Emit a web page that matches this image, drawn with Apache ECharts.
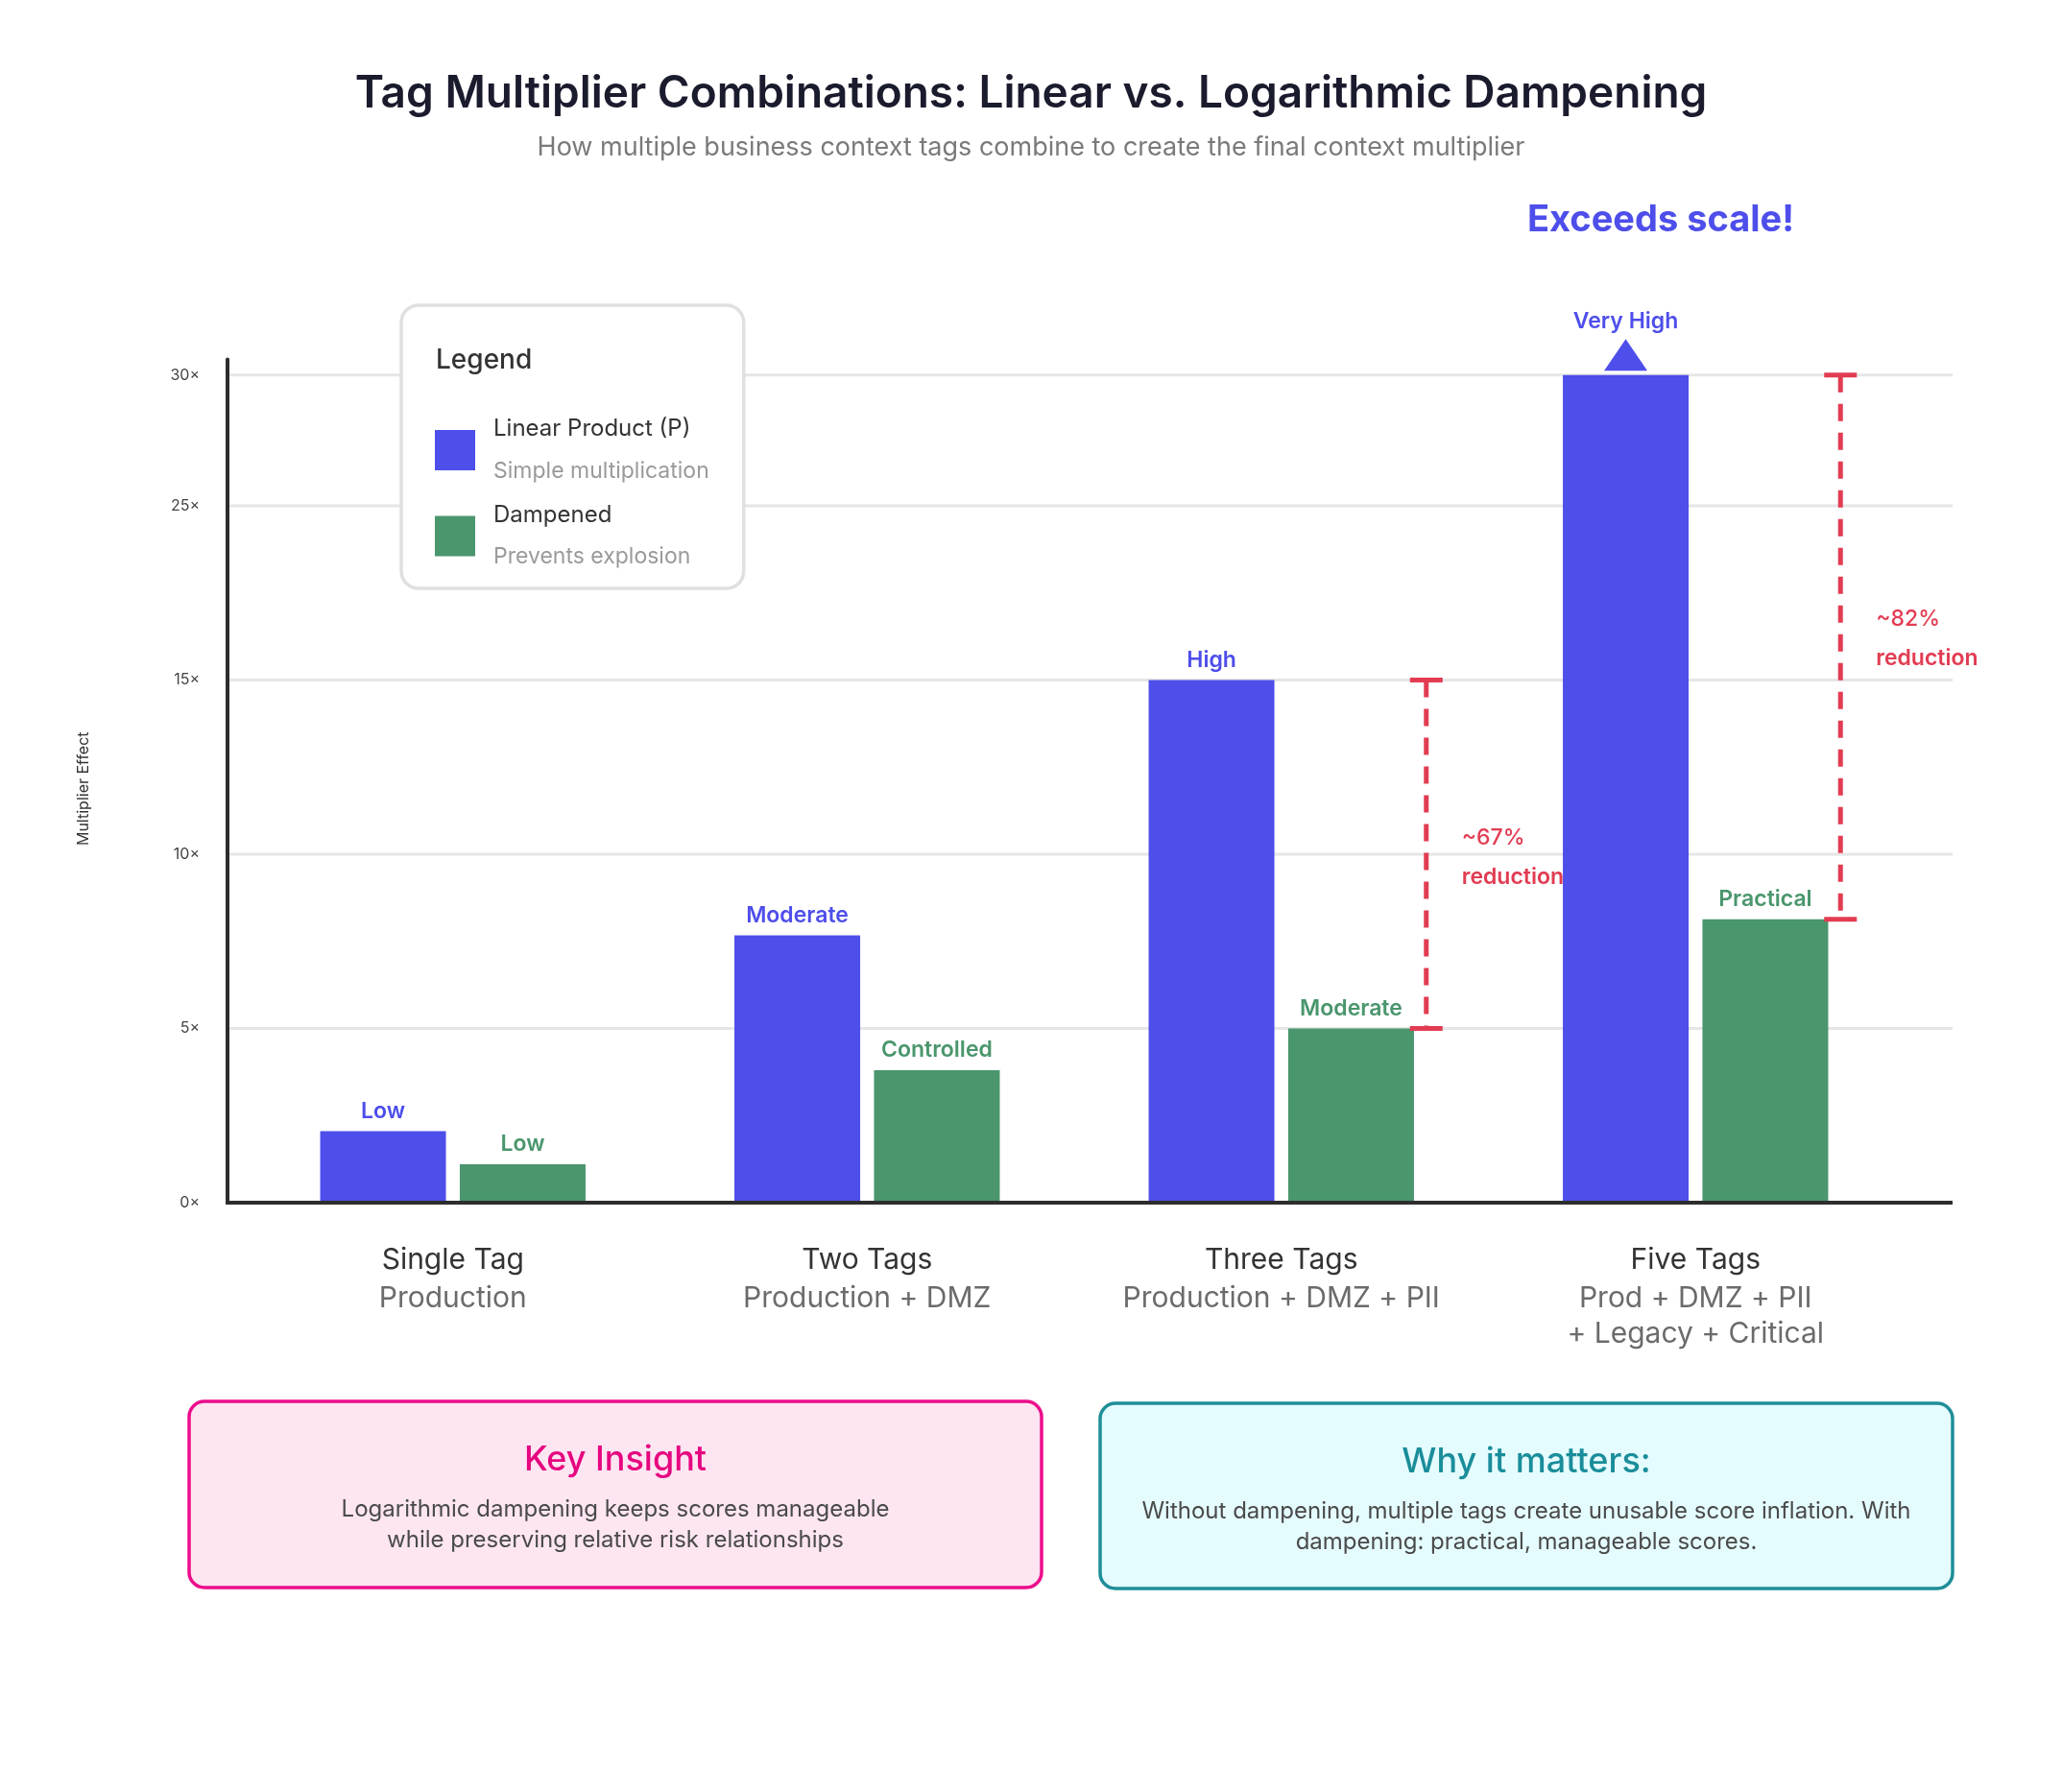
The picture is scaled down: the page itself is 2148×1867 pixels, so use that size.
<!DOCTYPE html>
<html>
<head>
<meta charset="utf-8">
<title>Tag Multiplier Combinations</title>
<script src="https://cdn.jsdelivr.net/npm/echarts@6.0.0/dist/echarts.min.js"></script>
<style>
  html, body { margin: 0; padding: 0; background: #ffffff; }
  #chart { width: 2148px; height: 1867px; }
</style>
</head>
<body>
<div id="chart"></div>
<script>
(function () {
  'use strict';

  // data
  var categories = ['Single Tag', 'Two Tags', 'Three Tags', 'Five Tags'];
  var tagSets = ['Production', 'Production + DMZ', 'Production + DMZ + PII', 'Prod + DMZ + PII\n+ Legacy + Critical'];
  var linearValues = [2.05, 7.67, 15, 30];
  var dampenedValues = [1.1, 3.8, 5, 8.13];
  var linearLabels = ['Low', 'Moderate', 'High', 'Very High'];
  var dampenedLabels = ['Low', 'Controlled', 'Moderate', 'Practical'];
  var reductionIndex = [2, 3];
  var reductionText = ['~67%', '~82%'];
  var tickValues = [0, 5, 10, 15, 25, 30];
  var tickLabels = ['0×', '5×', '10×', '15×', '25×', '30×'];
  var seriesNames = ['Linear Product (P)', 'Dampened'];
  var seriesNotes = ['Simple multiplication', 'Prevents explosion'];

  var BLUE = '#4e4eeb';
  var GREEN = '#4a966d';
  var RED = '#e23c52';
  var FONT = 'Inter, "Noto Sans", sans-serif';
  var reductionTextShift = [4, -9];

  // the source axis is compressed above 15x (15-25 at half, 25-30 at 3/4 scale)
  function toAxis(v) {
    if (v <= 15) {
      return v;
    }
    if (v <= 25) {
      return 15 + (v - 15) * 0.5;
    }
    return 20 + (v - 25) * 0.75;
  }

  function tickLabelFor(axisValue) {
    for (var i = 0; i < tickValues.length; i += 1) {
      if (Math.abs(toAxis(tickValues[i]) - axisValue) < 0.01) {
        return tickLabels[i];
      }
    }
    return '';
  }

  var chart = echarts.init(document.getElementById('chart'), null, { renderer: 'canvas' });

  var option = {
    backgroundColor: '#ffffff',
    textStyle: { fontFamily: FONT },
    animation: false,
    title: {
      text: 'Tag Multiplier Combinations: Linear vs. Logarithmic Dampening',
      subtext: 'How multiple business context tags combine to create the final context multiplier',
      left: 'center',
      top: 70,
      itemGap: 19,
      textStyle: { fontFamily: FONT, fontSize: 46, fontWeight: 600, color: '#1b1b2e' },
      subtextStyle: { fontFamily: FONT, fontSize: 27, color: '#7a7a7a' }
    },
    legend: {
      data: seriesNames,
      orient: 'vertical',
      left: 418,
      top: 318,
      itemWidth: 42,
      itemHeight: 42,
      itemGap: 22,
      icon: 'rect',
      backgroundColor: '#ffffff',
      borderColor: '#e0e0e0',
      borderWidth: 3.5,
      borderRadius: 18,
      padding: [117, 36, 21, 35],
      selectedMode: false,
      formatter: function (name) {
        var note = seriesNotes[seriesNames.indexOf(name)];
        return '{a|' + name + '}\n{b|' + note + '}';
      },
      textStyle: {
        rich: {
          a: { fontFamily: FONT, fontSize: 24, color: '#333333', lineHeight: 44, padding: [0, 0, 0, 14] },
          b: { fontFamily: FONT, fontSize: 23, color: '#9a9a9a', lineHeight: 44, padding: [0, 0, 0, 14] }
        }
      }
    },
    grid: {
      left: 256,
      right: 2148 - 1982,
      top: 374.5,
      bottom: 1867 - 1253,
      containLabel: false
    },
    xAxis: {
      type: 'category',
      data: categories,
      axisLine: { show: false },
      axisTick: { show: false },
      splitLine: { show: false },
      axisLabel: {
        margin: 39,
        interval: 0,
        formatter: function (value, index) {
          return '{a|' + value + '}\n{b|' + tagSets[index].replace('\n', '}\n{b|') + '}';
        },
        rich: {
          a: { fontFamily: FONT, fontSize: 30, color: '#333333', lineHeight: 42 },
          b: { fontFamily: FONT, fontSize: 30, color: '#6b6b6b', lineHeight: 37 }
        }
      }
    },
    yAxis: {
      type: 'value',
      min: 0,
      max: 24.2,
      offset: 19,
      name: 'Multiplier Effect',
      nameLocation: 'middle',
      nameRotate: 90,
      nameGap: 142,
      nameTextStyle: { fontFamily: FONT, fontSize: 16, color: '#333333', padding: [0, 16, 0, 0] },
      axisLine: { show: true, lineStyle: { color: '#2d2d2d', width: 4 } },
      axisTick: { show: false },
      splitLine: { show: false },
      axisLabel: {
        customValues: tickValues.map(toAxis),
        margin: 29,
        fontFamily: FONT,
        fontSize: 16,
        color: '#444444',
        formatter: function (value) {
          return tickLabelFor(value);
        }
      }
    },
    series: [
      {
        name: seriesNames[0],
        type: 'bar',
        barWidth: 131,
        barGap: '11%',
        z: 2,
        itemStyle: { color: BLUE },
        data: linearValues.map(function (v, i) {
          return {
            value: toAxis(v),
            label: { distance: i === 3 ? 44 : 9 }
          };
        }),
        label: {
          show: true,
          position: 'top',
          fontFamily: FONT,
          fontSize: 23,
          fontWeight: 600,
          color: BLUE,
          formatter: function (p) {
            return linearLabels[p.dataIndex];
          }
        },
        markPoint: {
          silent: true,
          symbol: 'triangle',
          symbolSize: [45, 33],
          symbolOffset: [0, -21],
          itemStyle: { color: BLUE },
          label: { show: false },
          data: [{ coord: [3, toAxis(linearValues[3])] }]
        }
      },
      {
        name: seriesNames[1],
        type: 'bar',
        barWidth: 131,
        barGap: '11%',
        z: 2,
        itemStyle: { color: GREEN },
        data: dampenedValues.map(toAxis),
        label: {
          show: true,
          position: 'top',
          distance: 9,
          fontFamily: FONT,
          fontSize: 23,
          fontWeight: 600,
          color: GREEN,
          formatter: function (p) {
            return dampenedLabels[p.dataIndex];
          }
        }
      },
      {
        name: 'reduction',
        type: 'custom',
        z: 2,
        silent: true,
        data: reductionIndex.map(function (i) {
          return [i, toAxis(linearValues[i]), toAxis(dampenedValues[i])];
        }),
        renderItem: function (params, api) {
          var top = api.coord([api.value(0), api.value(1)]);
          var bottom = api.coord([api.value(0), api.value(2)]);
          var x = top[0] + 151;
          var capStyle = { stroke: RED, lineWidth: 5 };
          return {
            type: 'group',
            children: [
              {
                type: 'line',
                z2: 10,
                shape: { x1: x, y1: top[1], x2: x, y2: bottom[1] },
                style: { stroke: RED, lineWidth: 5, lineDash: [18, 12] }
              },
              {
                type: 'line',
                z2: 10,
                shape: { x1: x - 17, y1: top[1], x2: x + 17, y2: top[1] },
                style: capStyle
              },
              {
                type: 'line',
                z2: 10,
                shape: { x1: x - 17, y1: bottom[1], x2: x + 17, y2: bottom[1] },
                style: capStyle
              },
              {
                type: 'text',
                z2: -10,
                x: x + 37,
                y: (top[1] + bottom[1]) / 2 + reductionTextShift[params.dataIndex],
                style: {
                  text: '{p|' + reductionText[params.dataIndex] + '}\n{r|reduction}',
                  align: 'left',
                  verticalAlign: 'middle',
                  rich: {
                    p: { fontFamily: FONT, fontSize: 23, fontWeight: 500, fill: RED, lineHeight: 41 },
                    r: { fontFamily: FONT, fontSize: 23, fontWeight: 600, fill: RED, lineHeight: 41 }
                  }
                }
              }
            ]
          };
        }
      }
    ]
  };

  chart.setOption(option);

  // grid lines and baseline span the full frame, wider than the category bands
  var frameLeft = 237;
  var frameRight = 2034;
  var elements = [];
  for (var i = 0; i < tickValues.length; i += 1) {
    var y = chart.convertToPixel({ yAxisIndex: 0 }, toAxis(tickValues[i]));
    if (tickValues[i] === 0) {
      continue;
    }
    elements.push({
      type: 'line',
      z: 0,
      silent: true,
      shape: { x1: frameLeft, y1: y, x2: frameRight, y2: y },
      style: { stroke: '#e6e6e6', lineWidth: 3 }
    });
  }
  var baseY = chart.convertToPixel({ yAxisIndex: 0 }, 0);
  elements.push({
    type: 'line',
    z: 3,
    silent: true,
    shape: { x1: frameLeft - 2, y1: baseY, x2: frameRight, y2: baseY },
    style: { stroke: '#2d2d2d', lineWidth: 4 }
  });

  elements.push({
    type: 'text',
    z: 10,
    left: 454,
    top: 362,
    style: { text: 'Legend', fontFamily: FONT, fontSize: 28, fontWeight: 500, fill: '#333333' }
  });

  elements.push({
    type: 'text',
    z: 10,
    x: 1730,
    y: 230,
    style: {
      text: 'Exceeds scale!',
      align: 'center',
      verticalAlign: 'middle',
      fontFamily: FONT,
      fontSize: 38,
      fontWeight: 700,
      fill: BLUE
    }
  });

  function infoBox(x, y, w, h, fill, stroke, title, titleColor, body) {
    return {
      type: 'group',
      x: x,
      y: y,
      z: 10,
      children: [
        {
          type: 'rect',
          shape: { x: 0, y: 0, width: w, height: h, r: 16 },
          style: { fill: fill, stroke: stroke, lineWidth: 3.5 }
        },
        {
          type: 'text',
          x: w / 2,
          y: 61,
          style: {
            text: title,
            align: 'center',
            verticalAlign: 'middle',
            fontFamily: FONT,
            fontSize: 36,
            fontWeight: 500,
            fill: titleColor
          }
        },
        {
          type: 'text',
          x: w / 2,
          y: 129,
          style: {
            text: body,
            align: 'center',
            verticalAlign: 'middle',
            fontFamily: FONT,
            fontSize: 24,
            lineHeight: 32,
            fill: '#4a4a4a'
          }
        }
      ]
    };
  }

  elements.push(infoBox(197, 1460, 888, 194, '#fde5f2', '#ec0d8c', 'Key Insight', '#e6067f',
    'Logarithmic dampening keeps scores manageable\nwhile preserving relative risk relationships'));
  elements.push(infoBox(1146, 1462, 888, 193, '#e5fcfe', '#1f8e98', 'Why it matters:', '#1a8d9a',
    'Without dampening, multiple tags create unusable score inflation. With\ndampening: practical, manageable scores.'));

  chart.setOption({ graphic: { elements: elements } });
})();
</script>
</body>
</html>
